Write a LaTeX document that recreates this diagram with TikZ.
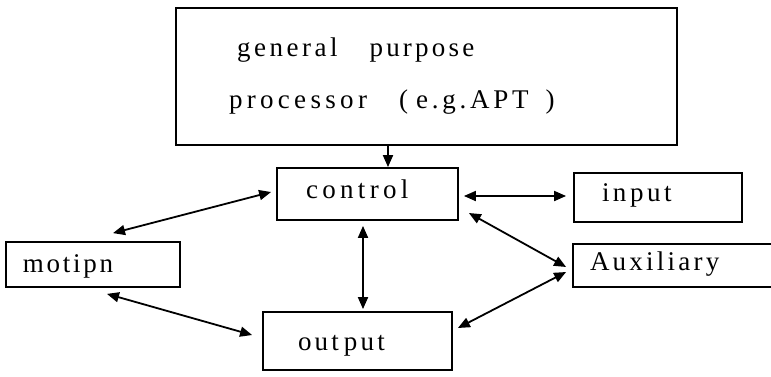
\documentclass[tikz,border=0pt]{standalone}
\usepackage{fontspec}
\setmainfont{Liberation Serif}
\usetikzlibrary{arrows.meta}

% letter-spaced label text: #1 = tracking in percent of the font size
\newcommand{\tracked}[2]{{\addfontfeature{LetterSpace=#1}#2}}
\newcommand{\gap}[1]{\hspace*{#1}}

\tikzset{
  box/.style={draw, line width=1.8pt, align=left, inner ysep=0pt,
    font=\fontsize{27}{33}\selectfont},
  oneline/.style={text height=18pt, text depth=6pt},
  tip/.tip={Triangle[length=12pt,width=10pt]},
  link/.style={line width=1.8pt, tip-tip},
  feed/.style={line width=1.8pt, -tip},
}

\begin{document}
\begin{tikzpicture}[x=1pt,y=-1pt]
\useasboundingbox (0,0) rectangle (771,376);

% processor block on top
\node[box, minimum height=137pt, inner xsep=53pt, text width=395pt,
  font=\fontsize{27}{52}\selectfont]
  (gp) at (426.5,76.5)
  {\gap{8pt}\tracked{13}{general}\gap{32pt}\tracked{12}{purpose}\\
   \tracked{16}{processor}\gap{32pt}(\gap{8pt}\tracked{14}{e.g.APT}\gap{17pt})};

% functional blocks
\node[box, oneline, minimum height=52pt, inner xsep=29pt, text width=123pt]
  (control) at (367.5,194) {\raisebox{2pt}{\tracked{16}{control}}};
\node[box, oneline, minimum height=49pt, inner xsep=28pt, text width=112pt]
  (input) at (658,197.5) {\raisebox{2.5pt}{\tracked{13}{input}}};
\node[box, oneline, draw=none, minimum height=41pt, inner xsep=16pt, text width=165pt]
  (aux) at (672.5,265.5) {\raisebox{1.5pt}{\tracked{12}{Auxiliary}}};
\draw[line width=1.8pt] (aux.north east) -- (aux.north west)
  -- (aux.south west) -- (aux.south east);
\node[box, oneline, minimum height=45pt, inner xsep=17pt, text width=140pt]
  (motion) at (93,264.5) {\raisebox{-1.5pt}{\tracked{10}{motipn}}};
\node[box, oneline, minimum height=58pt, inner xsep=35pt, text width=119pt]
  (output) at (357.5,341) {\raisebox{-3pt}{\tracked{12}{out\kern5pt put}}};

% connections
\draw[feed] ([xshift=-38.5pt]gp.south) -- ([xshift=20.5pt]control.north);
\draw[link] ([shift={(20,-8)}]motion.north) -- ([shift={(-5,-2)}]control.west);
\draw[link] ([shift={(14,6)}]motion.south) -- ([shift={(-10,-6)}]output.west);
\draw[link] ([shift={(-4.5,5)}]control.south) -- ([shift={(5.5,-2)}]output.north);
\draw[link] ([shift={(5,2)}]control.east) -- ([shift={(-7,-1.5)}]input.west);
\draw[link] ([shift={(10,19)}]control.east) -- ([shift={(-7,1.5)}]aux.west);
\draw[link] ([shift={(-7,6.5)}]aux.west) -- ([shift={(5,-13)}]output.east);
\end{tikzpicture}
\end{document}
